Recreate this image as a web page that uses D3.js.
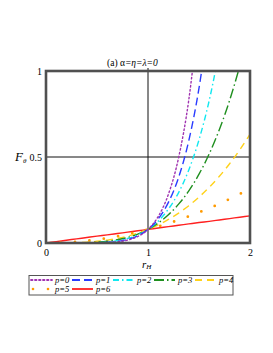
<!DOCTYPE html>
<html>
<head>
<meta charset="utf-8">
<script src="https://cdn.jsdelivr.net/npm/d3@7/dist/d3.min.js"></script>
<style>
  body { margin: 0; background: #fff; }
  svg text { font-family: "Liberation Serif", "DejaVu Serif", serif; }
</style>
</head>
<body>
<svg id="chart" width="273" height="353"></svg>
<script>
// r_H sample points
const xs = [0, 0.1, 0.2, 0.3, 0.4, 0.5, 0.6, 0.7, 0.8, 0.9, 1.0,
            1.1, 1.2, 1.3, 1.4, 1.5, 1.6, 1.7, 1.8, 1.9, 2.0];

// F_theta values (curves stop once they leave the top)
const p0 = [0, 0, 0, 0, 0, 0.001, 0.002, 0.007, 0.017, 0.038, 0.079, 0.154, 0.283, 0.496, 0.833, 1.35];
const p1 = [0, 0, 0, 0, 0, 0.001, 0.004, 0.009, 0.021, 0.042, 0.079, 0.140, 0.236, 0.381, 0.595, 0.900, 1.325];
const p2 = [0, 0, 0, 0, 0.001, 0.002, 0.006, 0.013, 0.026, 0.047, 0.079, 0.127, 0.197, 0.293, 0.425, 0.600, 0.828, 1.122];
const p3 = [0, 0, 0, 0.001, 0.002, 0.005, 0.010, 0.019, 0.032, 0.052, 0.079, 0.116, 0.164, 0.226, 0.303, 0.400, 0.518, 0.660, 0.829, 1.030, 1.264];
const p4 = [0, 0, 0.001, 0.002, 0.005, 0.010, 0.017, 0.027, 0.040, 0.058, 0.079, 0.105, 0.137, 0.174, 0.217, 0.267, 0.324, 0.388, 0.461, 0.542, 0.632];
const p5 = [0, 0.001, 0.003, 0.007, 0.013, 0.020, 0.028, 0.039, 0.051, 0.064, 0.079, 0.096, 0.114, 0.134, 0.155, 0.178, 0.202, 0.228, 0.256, 0.285, 0.316];
const p6 = [0, 0.008, 0.016, 0.024, 0.032, 0.040, 0.047, 0.055, 0.063, 0.071, 0.079, 0.087, 0.095, 0.103, 0.111, 0.119, 0.126, 0.134, 0.142, 0.150, 0.158];

const seriesNames = ["p=0", "p=1", "p=2", "p=3", "p=4", "p=5", "p=6"];
const seriesValues = [p0, p1, p2, p3, p4, p5, p6];
const colors = ["#a033b0", "#2a3cff", "#10e8f0", "#1f8f1f", "#ffd21a", "#ff9a00", "#ff2020"];
const dashes = ["1.5,2.5", "8,4", "6,3,1.5,3", "10,3,1.5,3", "7,5", "0,14.5", null];

const xTicks = [0, 1, 2];
const yTicks = [0, 0.5, 1];

const svg = d3.select("#chart");
const pl = 46, pr = 250, pt = 71, pb = 243;

const x = d3.scaleLinear().domain([0, 2]).range([pl, pr]);
const y = d3.scaleLinear().domain([0, 1]).range([pb, pt]);

// title
const title = svg.append("text")
  .attr("x", 107).attr("y", 66)
  .attr("font-size", 9.5);
title.append("tspan").text("(a) α");
title.append("tspan").attr("font-style", "italic").text("=η=λ=0");

// grid lines through the middle
svg.append("line")
  .attr("x1", x(1)).attr("x2", x(1)).attr("y1", y(1) - 3).attr("y2", y(0))
  .attr("stroke", "#111").attr("stroke-width", 1);
svg.append("line")
  .attr("x1", x(0)).attr("x2", x(2)).attr("y1", y(0.5)).attr("y2", y(0.5))
  .attr("stroke", "#111").attr("stroke-width", 1);

// clip for curves
svg.append("clipPath").attr("id", "plotclip")
  .append("rect")
  .attr("x", pl).attr("y", pt).attr("width", pr - pl).attr("height", pb - pt);

const line = d3.line()
  .x((d, i) => x(xs[i]))
  .y(d => y(d))
  .curve(d3.curveMonotoneX);

const curves = svg.append("g").attr("clip-path", "url(#plotclip)");
// draw p=6 first so the others sit on top near the origin
[6, 5, 4, 3, 2, 1, 0].forEach(i => {
  curves.append("path")
    .attr("d", line(seriesValues[i]))
    .attr("fill", "none")
    .attr("stroke", colors[i])
    .attr("stroke-width", i === 5 ? 2.8 : 1.4)
    .attr("stroke-linecap", i === 5 || i === 0 ? "round" : "butt")
    .attr("stroke-dasharray", dashes[i]);
});

// frame
svg.append("rect")
  .attr("x", pl).attr("y", pt)
  .attr("width", pr - pl).attr("height", pb - pt)
  .attr("fill", "none").attr("stroke", "#505050").attr("stroke-width", 2.6);

// axes (labels only)
const xAxis = svg.append("g")
  .attr("transform", `translate(0,${pb + 2})`)
  .call(d3.axisBottom(x).tickValues(xTicks).tickSize(0).tickPadding(4).tickFormat(d3.format("d")));
xAxis.select(".domain").remove();
xAxis.selectAll("text").attr("font-size", 10).attr("fill", "#000")
  .attr("font-family", "Liberation Serif, serif");

const yAxis = svg.append("g")
  .attr("transform", `translate(${pl - 1},0)`)
  .call(d3.axisLeft(y).tickValues(yTicks).tickSize(0).tickPadding(3).tickFormat(d => d === 0.5 ? "0.5" : d3.format("d")(d)));
yAxis.select(".domain").remove();
yAxis.selectAll("text").attr("font-size", 10).attr("fill", "#000")
  .attr("font-family", "Liberation Serif, serif");

// axis titles
const yl = svg.append("text")
  .attr("x", 15).attr("y", y(0.5) + 4)
  .attr("font-size", 13).attr("font-style", "italic");
yl.append("tspan").text("F");
yl.append("tspan").attr("font-size", 7).attr("dy", 2).text("θ");

const xl = svg.append("text")
  .attr("x", x(1) - 6).attr("y", 268)
  .attr("font-size", 11).attr("font-style", "italic");
xl.append("tspan").text("r");
xl.append("tspan").attr("font-size", 7).attr("dy", 1).text("H");

// legend
svg.append("rect")
  .attr("x", 29).attr("y", 275.5).attr("width", 204).attr("height", 19.5)
  .attr("fill", "#fff").attr("stroke", "#555").attr("stroke-width", 1);

seriesNames.forEach((name, i) => {
  const col = i % 5, row = Math.floor(i / 5);
  const lx = 31 + col * 41;
  const ly = 280 + row * 9;
  const g = svg.append("g");
  if (i === 5) {
    [lx + 2, lx + 17].forEach(cx => {
      g.append("circle").attr("cx", cx).attr("cy", ly).attr("r", 1.3).attr("fill", colors[i]);
    });
  } else {
    g.append("line")
      .attr("x1", lx).attr("x2", lx + 21).attr("y1", ly).attr("y2", ly)
      .attr("stroke", colors[i]).attr("stroke-width", 1.8)
      .attr("stroke-dasharray", dashes[i])
      .attr("stroke-linecap", i === 0 ? "round" : "butt");
  }
  g.append("text")
    .attr("x", lx + 24).attr("y", ly + 3)
    .attr("font-size", 8.5).attr("font-style", "italic")
    .text(name);
});
</script>
</body>
</html>
